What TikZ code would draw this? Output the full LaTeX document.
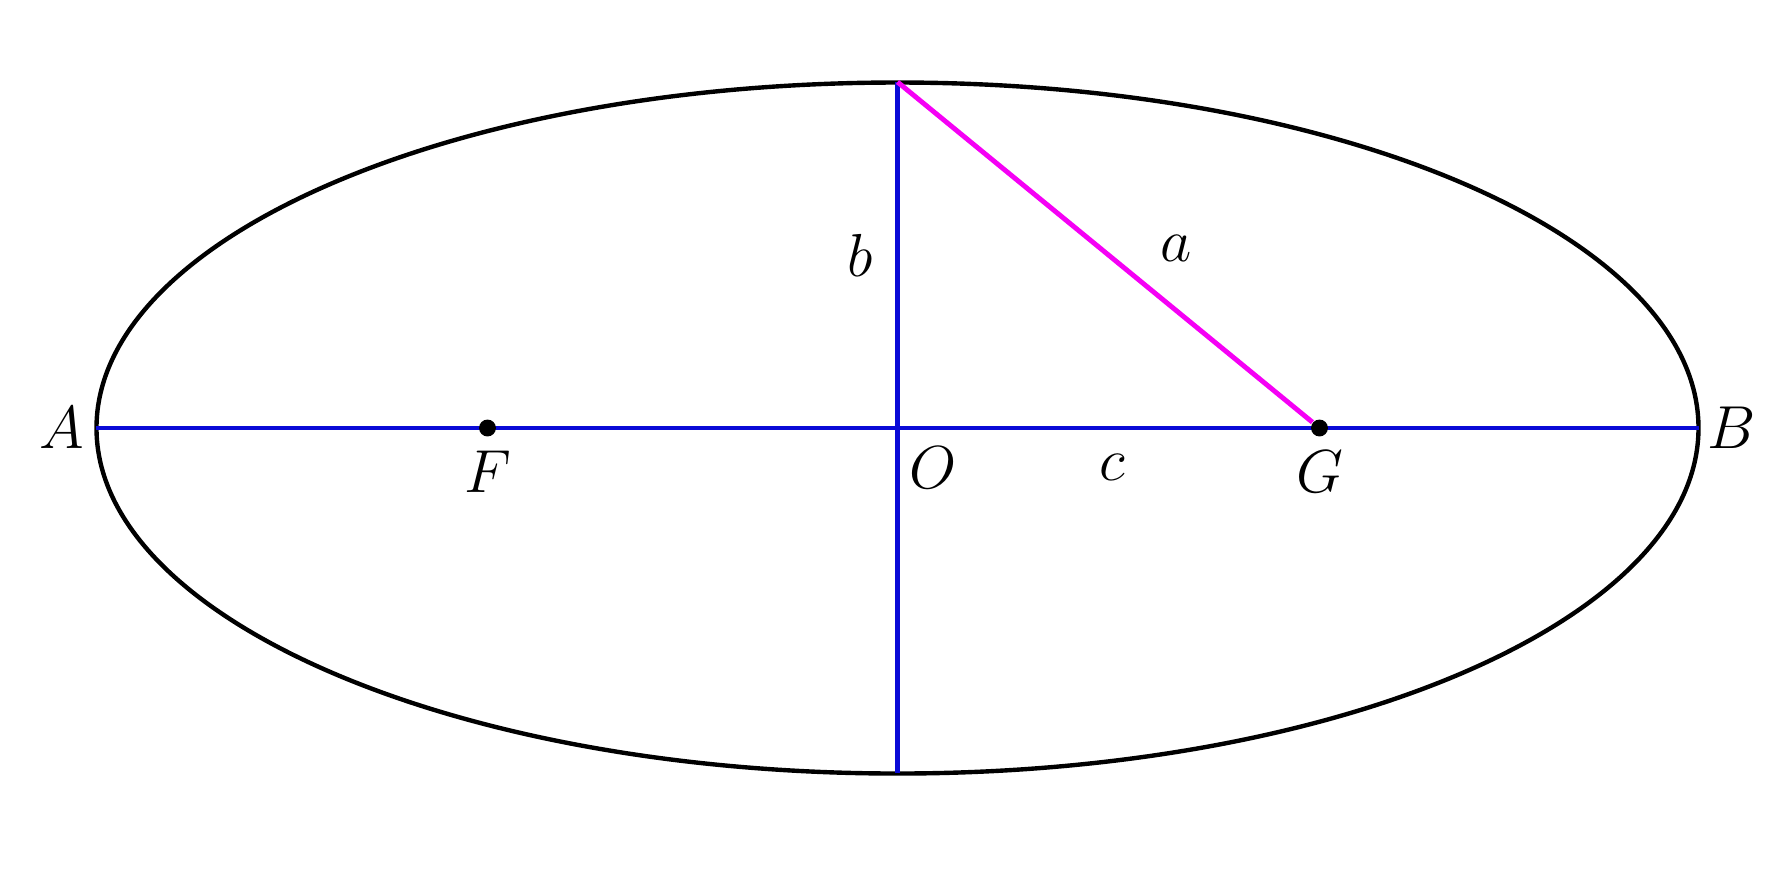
\documentclass[tikz,border=0pt]{standalone}
\usetikzlibrary{positioning}
\definecolor{hypcol}{RGB}{245,0,245}
\definecolor{axcol}{RGB}{10,10,215}
\tikzset{
  lbl/.style={font=\fontsize{18.5}{22}\selectfont,text=black},
  axis/.style={line width=1.3pt,axcol},
  focus/.style={circle,fill=black,inner sep=0pt,minimum size=4.8pt},
}
\begin{document}
\begin{tikzpicture}[>=latex]
\useasboundingbox (-8.975,-4.51) rectangle (8.925,4.28);
\coordinate (O) at (0,0);
\coordinate (A) at (-8.01,0);
\coordinate (B) at (8.01,0);
\coordinate (top) at (0,3.46);
\coordinate (bot) at (0,-3.45);
\draw[line width=1.25pt]
  (O) ellipse (8.01 and 3.455);
\draw[axis]
  (A) -- (B);
\draw[axis]
  (top) -- node[lbl,left=3pt] (lb) {$b$} (O) -- (bot);
\node[focus] (F) at (-4.1,0) {};
\node[focus] (G) at (4.22,0) {};
\draw[line width=1.4pt,hypcol]
  (top) -- node[lbl,pos=0.6,above right,yshift=3pt] (la) {$a$} (G);
\path
  (O) -- node[lbl,below=4pt,xshift=0.08cm] (lc) {$c$} (G);
\node[lbl,left=0pt of A] (lA) {$A$};
\node[lbl,right=-1pt of B] (lB) {$B$};
\node[lbl,below=0.5pt of F] (lF) {$F$};
\node[lbl,below=0.5pt of G] (lG) {$G$};
\node[lbl,below right=2pt and 0pt of O] (lO) {$O$};
\end{tikzpicture}
\end{document}
